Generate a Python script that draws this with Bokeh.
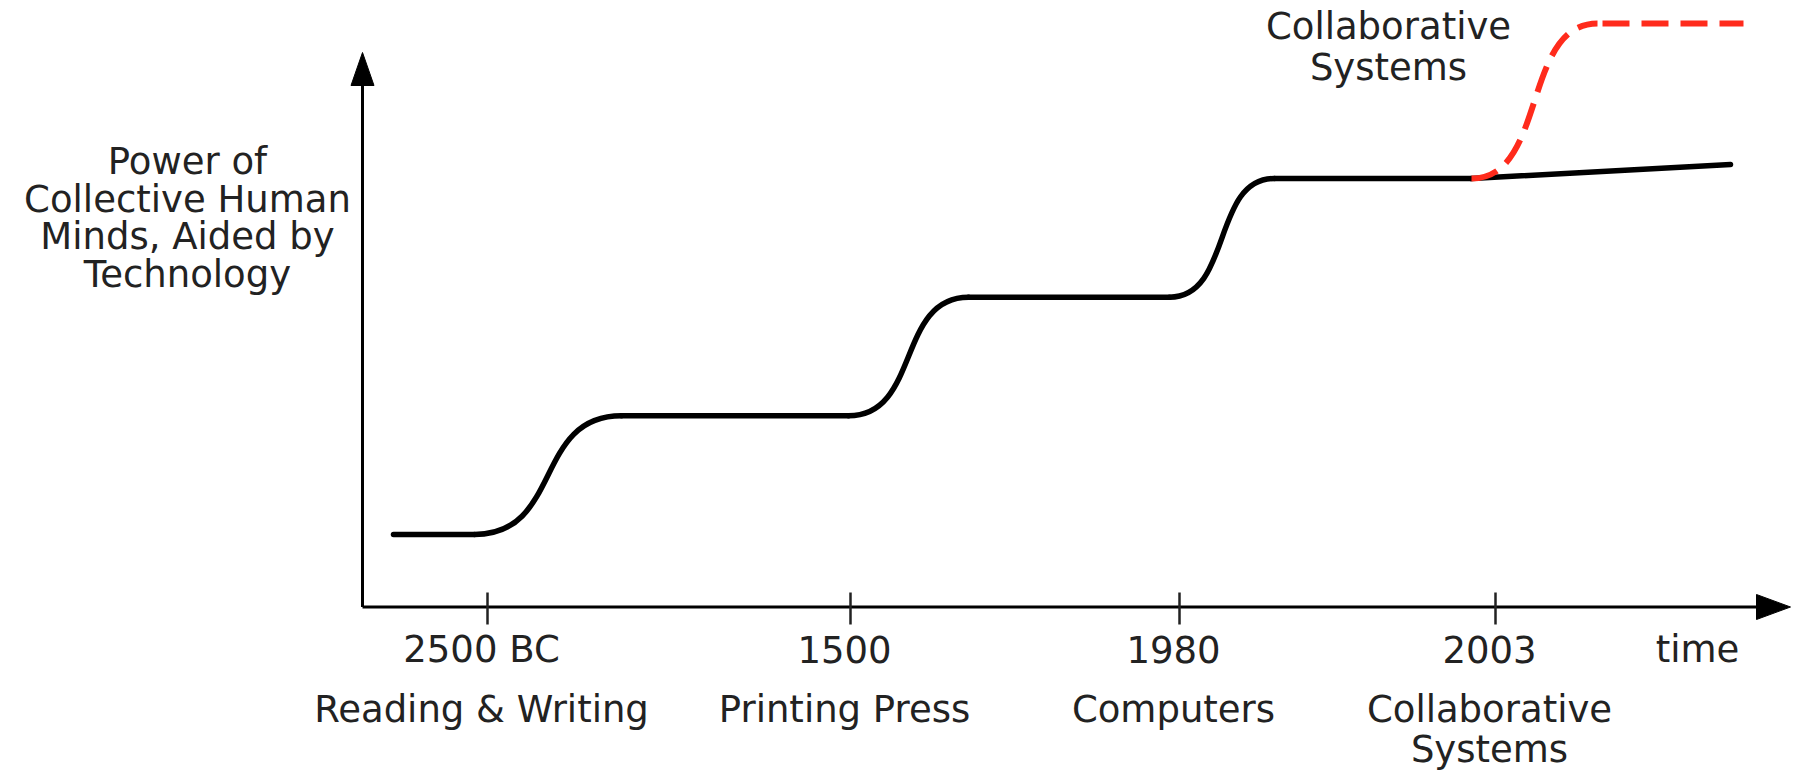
from bokeh.plotting import figure
from bokeh.models import Range1d, ColumnDataSource
from bokeh.core.properties import value
from bokeh.embed import file_html
from bokeh.resources import INLINE

# ---------------- data ----------------
years = ["2500 BC", "1500", "1980", "2003"]
milestones = ["Reading & Writing", "Printing Press", "Computers", "Collaborative\nSystems"]
milestone_t = [12.5, 48.8, 81.7, 113.3]          # position on the time axis

x_title = "time"
y_title = "Power of\nCollective Human\nMinds, Aided by\nTechnology"
collab_title = "Collaborative\nSystems"

levels = [1, 2, 3, 4]                            # plateaus of collective power
plateau_start = [3.1, 25.9, 60.6, 91.2]
plateau_end = [11.2, 48.6, 80.7, 110.9]

trend_end_t = 136.8                              # slow growth without collaboration
trend_end_level = 4.118

collab_top_t = 123.5                             # jump with collaborative systems
collab_end_t = 138.1
collab_level = 5.306

# ---------------- layout helpers (page pixels -> data) ----------------
PX_T = 10.0       # pixels per time unit
PX_L = 118.67     # pixels per level unit
def tx(X):
    return (X - 362.0) / PX_T
def ty(Y):
    return 1.0 + (534.0 - Y) / PX_L

W, H = 1796, 771
p = figure(width=W, height=H, output_backend="svg", toolbar_location=None,
           x_range=Range1d(tx(0), tx(W)), y_range=Range1d(ty(H), ty(0)),
           min_border=0, min_border_left=0, min_border_right=0,
           min_border_top=0, min_border_bottom=0)
p.axis.visible = False
p.grid.visible = False
p.outline_line_color = None
p.background_fill_color = "white"
p.border_fill_color = "white"

FONT = value("DejaVu Sans")
FS = "37px"
TXT = "#222222"

axis_level = ty(606.5)
axis_w = 3

# y axis with arrow
y_tip, y_base = ty(52), ty(85)
p.segment(x0=[0], y0=[axis_level], x1=[0], y1=[y_base + 0.02], line_color="black", line_width=axis_w)
p.patches(xs=[[0, -11.5 / PX_T, 11.5 / PX_T]], ys=[[y_tip, y_base, y_base]],
          fill_color="black", line_color="black", line_width=1)

# x axis with arrow
x_tip, x_base = tx(1790), tx(1756)
p.segment(x0=[0], y0=[axis_level], x1=[x_base + 0.2], y1=[axis_level], line_color="black", line_width=axis_w)
p.patches(xs=[[x_tip, x_base, x_base]],
          ys=[[axis_level, axis_level + 12.5 / PX_L, axis_level - 12.5 / PX_L]],
          fill_color="black", line_color="black", line_width=1)

# ticks
p.segment(x0=milestone_t, y0=[ty(592)] * len(milestone_t), x1=milestone_t, y1=[ty(624)] * len(milestone_t),
          line_color="#222222", line_width=2.5)

# ---------------- curves ----------------
A = 0.6  # control point fraction for S-shaped rises
flat_xs = [[s, e] for s, e in zip(plateau_start, plateau_end)]
flat_ys = [[l, l] for l in levels]
flat_xs.append([plateau_end[-1], trend_end_t])
flat_ys.append([levels[-1], trend_end_level])
p.multi_line(xs=flat_xs, ys=flat_ys, line_color="black", line_width=5.5, line_cap="round")

bx0 = plateau_end[:-1]
bx1 = plateau_start[1:]
by0 = levels[:-1]
by1 = levels[1:]
bcx0 = [a + A * (b - a) for a, b in zip(bx0, bx1)]
bcx1 = [b - A * (b - a) for a, b in zip(bx0, bx1)]
p.bezier(x0=bx0, y0=by0, x1=bx1, y1=by1, cx0=bcx0, cy0=by0, cx1=bcx1, cy1=by1,
         line_color="black", line_width=5.5, line_cap="round")

RED = "#ff2b1c"
rx0, rx1 = plateau_end[-1], collab_top_t
p.bezier(x0=[rx0], y0=[levels[-1]], x1=[rx1], y1=[collab_level],
         cx0=[rx0 + A * (rx1 - rx0)], cy0=[levels[-1]], cx1=[rx1 - A * (rx1 - rx0)], cy1=[collab_level],
         line_color=RED, line_width=6, line_dash="27 12")
p.line(x=[collab_top_t + 0.5, collab_end_t], y=[collab_level, collab_level],
       line_color=RED, line_width=6, line_dash="27 12")

# ---------------- texts ----------------
def multiline(texts, xs, first_baseline_px, spacing_px):
    X, Y, T = [], [], []
    for t, x in zip(texts, xs):
        for i, line in enumerate(t.split("\n")):
            X.append(x)
            Y.append(ty(first_baseline_px + i * spacing_px))
            T.append(line)
    return dict(x=X, y=Y, text=T)

def draw_text(d):
    p.text(x="x", y="y", text="text", source=ColumnDataSource(d), text_font=FONT,
           text_font_size=FS, text_color=TXT, text_align="center", text_baseline="alphabetic")

label_shift = -0.6
draw_text(multiline(years, [t + label_shift for t in milestone_t], 649, 40))
draw_text(multiline(milestones, [t + label_shift for t in milestone_t], 709, 40))
draw_text(multiline([x_title], [tx(1697)], 649, 40))
draw_text(multiline([y_title], [tx(187)], 161, 37.5))
draw_text(multiline([collab_title], [tx(1388)], 26, 41))

open("out.html", "w").write(file_html(p, INLINE))
